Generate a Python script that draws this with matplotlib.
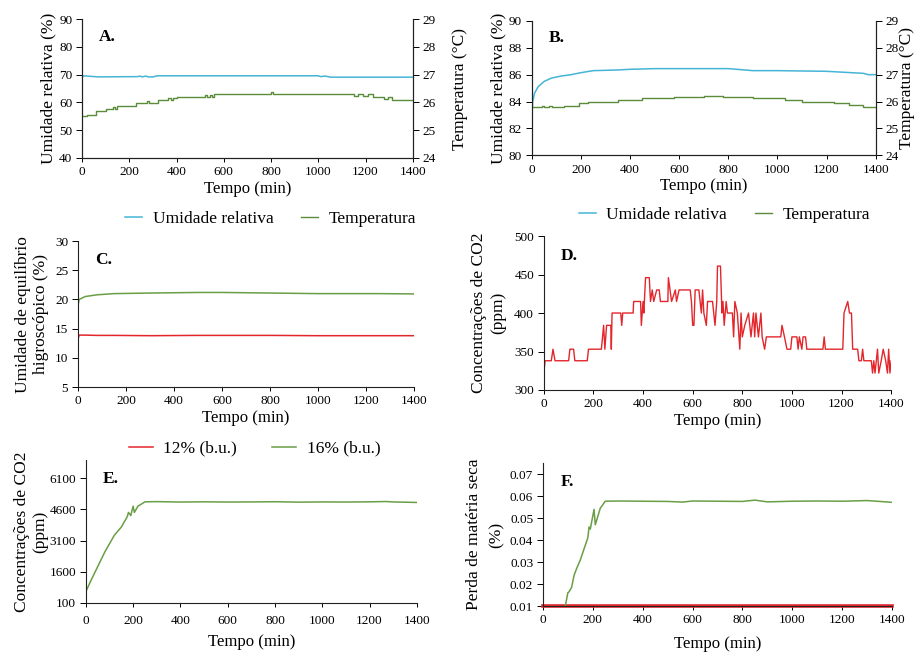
import numpy as np
import matplotlib
matplotlib.use("Agg")
import matplotlib.pyplot as plt

# cores
C_RH = "#45B4D6"
C_TEMP = "#5A8C3A"
C_GREEN = "#6A9E45"
C_RED = "#E2262C"

# A. umidade relativa / temperatura (lote 12%)
A_rh_t = [0, 4, 70, 235, 245, 255, 270, 280, 300, 320, 1000, 1010, 1030, 1050, 1400]
A_rh_v = [68.4, 69.6, 69.2, 69.3, 69.5, 69.2, 69.5, 69.2, 69.2, 69.6, 69.6, 69.3, 69.5, 69.1, 69.1]
A_tp_t = [0, 20, 60, 100, 130, 140, 150, 160, 230, 275, 285, 320, 365, 375, 385, 400,
          520, 530, 540, 550, 560, 790, 800, 810, 1140, 1150, 1170, 1190, 1210, 1230,
          1270, 1280, 1295, 1310, 1400]
A_tp_v = [25.5, 25.56, 25.7, 25.78, 25.83, 25.78, 25.86, 25.88, 25.99, 26.04, 25.99, 26.09,
          26.15, 26.09, 26.15, 26.2, 26.26, 26.2, 26.26, 26.2, 26.3, 26.3, 26.36, 26.3,
          26.3, 26.24, 26.3, 26.24, 26.3, 26.2, 26.2, 26.12, 26.18, 26.09, 26.09]

# B. umidade relativa / temperatura (lote 16%)
B_rh_t = [0, 3, 10, 25, 50, 80, 120, 160, 200, 250, 350, 400, 500, 800, 900, 1000, 1200, 1300,
          1350, 1370, 1400]
B_rh_v = [82.9, 84.0, 84.6, 85.1, 85.5, 85.75, 85.9, 86.0, 86.15, 86.3, 86.35, 86.4, 86.45,
          86.45, 86.3, 86.3, 86.25, 86.15, 86.1, 86.0, 86.0]
B_tp_t = [0, 40, 50, 70, 80, 130, 190, 230, 350, 450, 580, 700, 780, 900, 1030, 1100,
          1230, 1290, 1350, 1400]
B_tp_v = [25.8, 25.85, 25.8, 25.85, 25.8, 25.85, 25.93, 26.0, 26.06, 26.12, 26.15, 26.19,
          26.15, 26.12, 26.06, 26.0, 25.95, 25.88, 25.8, 25.8]

# C. umidade de equilibrio higroscopico
C_t = [0, 5, 30, 80, 150, 300, 500, 600, 800, 1000, 1250, 1400]
C_12 = [13.2, 13.9, 13.9, 13.85, 13.85, 13.8, 13.85, 13.85, 13.85, 13.8, 13.8, 13.8]
C_16 = [19.0, 20.0, 20.5, 20.8, 21.0, 21.1, 21.2, 21.2, 21.1, 21.0, 21.0, 20.95]

# D. CO2 ambiente (ppm), pares (tempo, valor)
D_pts = [(0, 322), (5, 338), (30, 338), (37, 353), (45, 338), (100, 338), (105, 353),
         (120, 353), (125, 338), (175, 338), (180, 353), (232, 353), (241, 384), (246, 353),
         (253, 384), (270, 384), (272, 353), (275, 400), (310, 400), (314, 384), (318, 400),
         (360, 400), (362, 415), (390, 415), (393, 384), (400, 415), (403, 400), (410, 446),
         (425, 446), (430, 415), (437, 430), (443, 415), (455, 430), (465, 430), (470, 415),
         (500, 415), (502, 446), (515, 415), (530, 430), (535, 415), (545, 430), (590, 430),
         (595, 415), (600, 384), (605, 384), (610, 430), (625, 430), (635, 400), (640, 430),
         (645, 400), (655, 384), (660, 415), (680, 415), (690, 384), (697, 415), (700, 461),
         (712, 461), (718, 400), (722, 415), (727, 384), (735, 415), (740, 400), (760, 400),
         (765, 369), (770, 415), (780, 400), (790, 353), (795, 400), (800, 369), (810, 384),
         (825, 400), (835, 369), (845, 400), (850, 369), (855, 400), (865, 369), (875, 400),
         (880, 369), (890, 353), (897, 369), (955, 369), (960, 384), (970, 369), (980, 353),
         (995, 353), (1000, 369), (1020, 369), (1025, 353), (1030, 369), (1040, 353),
         (1045, 369), (1055, 369), (1060, 353), (1125, 353), (1130, 369), (1135, 353),
         (1205, 353), (1210, 400), (1225, 415), (1232, 400), (1240, 400), (1245, 353),
         (1265, 353), (1270, 338), (1280, 338), (1285, 353), (1290, 338), (1320, 338),
         (1325, 322), (1330, 338), (1335, 322), (1345, 353), (1350, 322), (1360, 338),
         (1368, 353), (1378, 338), (1385, 322), (1390, 353), (1395, 322), (1400, 338)]
D_t = [p[0] for p in D_pts]
D_v = [p[1] for p in D_pts]

# E. CO2 na massa de graos (ppm)
E_t = [0, 20, 50, 80, 100, 110, 120, 150, 175, 180, 190, 195, 200, 205, 220, 250, 300,
       400, 500, 600, 700, 800, 900, 1000, 1100, 1200, 1270, 1300, 1400]
E_v = [650, 1150, 1850, 2550, 2950, 3150, 3350, 3750, 4250, 4450, 4300, 4550, 4750, 4450,
       4750, 4960, 4970, 4950, 4960, 4950, 4955, 4965, 4945, 4955, 4950, 4960, 4975, 4955, 4930]

# F. perda de materia seca (%)
F_t = [90, 100, 105, 115, 125, 135, 150, 165, 180, 185, 190, 195, 205, 210, 230, 250,
       300, 400, 500, 560, 600, 700, 800, 850, 900, 1000, 1100, 1200, 1300, 1400]
F_16 = [0.0102, 0.016, 0.0165, 0.0185, 0.024, 0.027, 0.031, 0.036, 0.041, 0.046, 0.045,
        0.048, 0.054, 0.047, 0.0545, 0.0577, 0.0578, 0.0577, 0.0576, 0.0573, 0.0578, 0.0577,
        0.0576, 0.0582, 0.0574, 0.0577, 0.0578, 0.0577, 0.0580, 0.0572]
F_12_t = [0, 1400]
F_12 = [0.01, 0.01]

XT = [0, 200, 400, 600, 800, 1000, 1200, 1400]
FS_LAB = 12.5
FS_TICK = 9.5

plt.rcParams.update({"font.family": "Liberation Serif", "font.size": 10,
                     "axes.linewidth": 0.8, "axes.edgecolor": "#222222",
                     "xtick.direction": "out", "ytick.direction": "out",
                     "xtick.major.size": 3, "ytick.major.size": 4,
                     "xtick.major.width": 0.7, "ytick.major.width": 0.7})

fig = plt.figure(figsize=(9.14, 6.55), dpi=100)


def base(ax, letter):
    ax.spines["top"].set_visible(False)
    ax.spines["right"].set_visible(False)
    ax.set_xlim(0, 1400)
    ax.set_xticks(XT)
    ax.set_xlabel("Tempo (min)", fontsize=12, labelpad=2)
    ax.tick_params(labelsize=FS_TICK, pad=3)
    ax.text(0.05, 0.87, letter, transform=ax.transAxes, fontsize=12.5,
            fontweight="bold", va="center")


def dual(rect, letter, rh_t, rh_v, tp_t, tp_v, ylim, yticks, rpad, legx):
    ax = fig.add_axes(rect)
    base(ax, letter)
    ax.spines["right"].set_visible(True)
    ax.set_ylim(*ylim); ax.set_yticks(yticks)
    l1, = ax.plot(rh_t, rh_v, color=C_RH, lw=1.1, label="Umidade relativa")
    ax.set_ylabel("Umidade relativa (%)", fontsize=FS_LAB, labelpad=2)
    ax2 = ax.twinx()
    ax2.spines["top"].set_visible(False)
    l2, = ax2.step(tp_t, tp_v, where="post", color=C_TEMP, lw=1.0, label="Temperatura")
    ax2.set_ylim(24, 29); ax2.set_yticks([24, 25, 26, 27, 28, 29])
    ax2.tick_params(labelsize=FS_TICK, pad=3)
    ax2.set_ylabel("Temperatura (°C)", fontsize=FS_LAB, labelpad=rpad)
    ax.legend([l1, l2], ["Umidade relativa", "Temperatura"], loc="upper center",
              bbox_to_anchor=(legx, -0.27), ncol=2, frameon=False, fontsize=12.5,
              handlelength=1.0, handletextpad=0.6, columnspacing=1.6)
    return ax


dual([0.0897, 0.7588, 0.362, 0.212], "A.", A_rh_t, A_rh_v, A_tp_t, A_tp_v,
     (40, 90), [40, 50, 60, 70, 80, 90], 12, 0.57)
dual([0.582, 0.763, 0.376, 0.205], "B.", B_rh_t, B_rh_v, B_tp_t, B_tp_v,
     (80, 90), [80, 82, 84, 86, 88, 90], 0, 0.56)

# C
ax = fig.add_axes([0.0853, 0.409, 0.3676, 0.223])
base(ax, "C.")
ax.set_ylim(5, 30); ax.set_yticks([5, 10, 15, 20, 25, 30])
ax.plot(C_t, C_12, color=C_RED, lw=1.1, label="12% (b.u.)")
ax.plot(C_t, C_16, color=C_GREEN, lw=1.1, label="16% (b.u.)")
ax.set_ylabel("Umidade de equilíbrio\nhigroscópico (%)", fontsize=FS_LAB, labelpad=4)
ax.legend(loc="upper center", bbox_to_anchor=(0.525, -0.26), ncol=2, frameon=False,
          fontsize=12.5, handlelength=1.4, handletextpad=0.6, columnspacing=2.0)

# D
ax = fig.add_axes([0.595, 0.4046, 0.380, 0.235])
base(ax, "D.")
ax.set_ylim(300, 500); ax.set_yticks([300, 350, 400, 450, 500])
ax.plot(D_t, D_v, color=C_RED, lw=1.0)
ax.set_ylabel("Concentrações de CO2\n(ppm)", fontsize=FS_LAB, labelpad=6)

# E
ax = fig.add_axes([0.094, 0.0794, 0.362, 0.218])
base(ax, "E.")
ax.set_ylim(100, 6960); ax.set_yticks([100, 1600, 3100, 4600, 6100])
ax.plot(E_t, E_v, color=C_GREEN, lw=1.1)
ax.set_ylabel("Concentrações de CO2\n(ppm)", fontsize=FS_LAB, labelpad=1)
ax.tick_params(axis="x", pad=6)
ax.xaxis.labelpad = 5

# F
ax = fig.add_axes([0.594, 0.0748, 0.382, 0.218])
base(ax, "F.")
ax.set_ylim(0.01, 0.075); ax.set_yticks([0.01, 0.02, 0.03, 0.04, 0.05, 0.06, 0.07])
ax.plot(F_12_t, F_12, color=C_RED, lw=2.6, clip_on=False)
ax.plot(F_t, F_16, color=C_GREEN, lw=1.1)
ax.set_ylabel("Perda de matéria seca\n(%)", fontsize=FS_LAB, labelpad=4,
              linespacing=1.5)
ax.xaxis.labelpad = 7

fig.savefig("out.png", dpi=100)
